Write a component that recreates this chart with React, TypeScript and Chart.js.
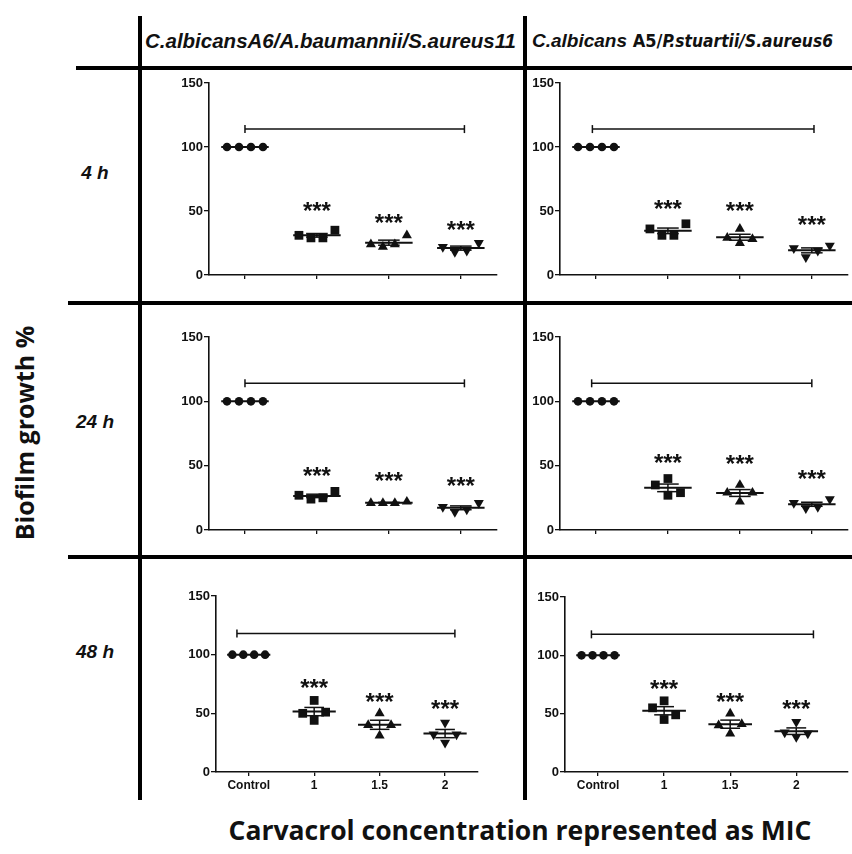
import React, { useEffect, useRef } from "react";
import { Chart, registerables } from "chart.js";

Chart.register(...registerables);

// ---------------- data ----------------
const CATEGORIES = ["Control", "1", "1.5", "2"];
const Y_TICKS = [0, 50, 100, 150];
const ROW_LABELS = ["4 h", "24 h", "48 h"];
const STAR_TEXT = "***";

// replicate values per group: [Control, 1, 1.5, 2]
const A6_4H = [[100, 100, 100, 100], [31, 29, 29, 35], [24, 22, 24, 31], [22, 18, 19, 25]];
const A6_4H_STARS = [55, 45, 40];
const A6_4H_BAR = [114, 0, 3.05];

const A5_4H = [[100, 100, 100, 100], [36, 31, 31, 40], [29, 36, 25, 28], [21, 14, 19, 23]];
const A5_4H_STARS = [56, 55, 44];
const A5_4H_BAR = [114, -0.05, 3.03];

const A6_24H = [[100, 100, 100, 100], [27, 24, 25, 30], [21, 21, 21, 22], [18, 14, 16, 21]];
const A6_24H_STARS = [47, 43, 39];
const A6_24H_BAR = [114, 0, 3.05];

const A5_24H = [[100, 100, 100, 100], [35, 40, 27, 29], [29, 35, 22, 29], [21, 17, 18, 24]];
const A5_24H_STARS = [57, 56, 44];
const A5_24H_BAR = [114, -0.06, 3.0];

const A6_48H = [[100, 100, 100, 100], [50, 61, 44, 51], [40, 50, 31, 40], [32, 42, 25, 32]];
const A6_48H_STARS = [77, 65, 59];
const A6_48H_BAR = [118, -0.18, 3.15];

const A5_48H = [[100, 100, 100, 100], [55, 61, 45, 49], [40, 50, 33, 41], [34, 43, 30, 33]];
const A5_48H_STARS = [76, 65, 59];
const A5_48H_BAR = [118, -0.1, 3.26];

// spread of the replicates around each category (GraphPad-style scatter)
const SPREAD_ROW = [-0.25, -0.083, 0.083, 0.25];
const SPREAD_DIAMOND = [-0.175, 0, 0, 0.175];

// ---------------- styles ----------------
const POINT_STYLES = ["circle", "rect", "triangle", "triangle"];
const POINT_ROT = [0, 0, 0, 180];
const POINT_RADII = [4.3, 6.2, 5.8, 5.8];
const MEAN_HALF = 0.33;
const CAP_HALF = 0.15;
const AX_W = 46;
const AX_H = 30;
const PAD_T = 12;
const PAD_R = 4;
const INK = "#111";

type PanelCfg = {
  key: string;
  l: number; t: number; r: number; b: number;
  xmax: number;
  groups: number[][];
  stars: number[];
  bar: number[];
  spread: number[][];
  labels: boolean;
};

const R = SPREAD_ROW, D = SPREAD_DIAMOND;
const PANELS: PanelCfg[] = [
  { key: "a6-4", l: 209, t: 83, r: 499, b: 275, xmax: 3.5, groups: A6_4H, stars: A6_4H_STARS, bar: A6_4H_BAR, spread: [R, R, R, R], labels: false },
  { key: "a5-4", l: 560, t: 83, r: 850, b: 275, xmax: 3.5, groups: A5_4H, stars: A5_4H_STARS, bar: A5_4H_BAR, spread: [R, R, D, R], labels: false },
  { key: "a6-24", l: 209, t: 337, r: 499, b: 530, xmax: 3.5, groups: A6_24H, stars: A6_24H_STARS, bar: A6_24H_BAR, spread: [R, R, R, R], labels: false },
  { key: "a5-24", l: 560, t: 337, r: 850, b: 530, xmax: 3.5, groups: A5_24H, stars: A5_24H_STARS, bar: A5_24H_BAR, spread: [R, D, D, R], labels: false },
  { key: "a6-48", l: 216, t: 596, r: 480, b: 772, xmax: 3.5, groups: A6_48H, stars: A6_48H_STARS, bar: A6_48H_BAR, spread: [R, D, D, D], labels: true },
  { key: "a5-48", l: 565, t: 597, r: 850, b: 772, xmax: 3.78, groups: A5_48H, stars: A5_48H_STARS, bar: A5_48H_BAR, spread: [R, D, D, D], labels: true },
];

function mean(a: number[]) {
  return a.reduce((s, v) => s + v, 0) / a.length;
}
function sem(a: number[]) {
  const m = mean(a);
  const sd = Math.sqrt(a.reduce((s, v) => s + (v - m) * (v - m), 0) / (a.length - 1));
  return sd / Math.sqrt(a.length);
}

function overlayPlugin(cfg: PanelCfg) {
  return {
    id: "overlay-" + cfg.key,
    afterDatasetsDraw(chart: any) {
      const { ctx } = chart;
      const xs = chart.scales.x;
      const ys = chart.scales.y;
      ctx.save();
      ctx.strokeStyle = INK;
      ctx.fillStyle = INK;
      const seg = (x1: number, y1: number, x2: number, y2: number) => {
        ctx.beginPath();
        ctx.moveTo(x1, y1);
        ctx.lineTo(x2, y2);
        ctx.stroke();
      };
      cfg.groups.forEach((vals, gi) => {
        const m = mean(vals);
        const s = sem(vals);
        const py = ys.getPixelForValue(m);
        ctx.lineWidth = 2;
        seg(xs.getPixelForValue(gi - MEAN_HALF), py, xs.getPixelForValue(gi + MEAN_HALF), py);
        if (s > 0.01) {
          const top = ys.getPixelForValue(m + s);
          const bot = ys.getPixelForValue(m - s);
          const cx = xs.getPixelForValue(gi);
          ctx.lineWidth = 1.5;
          seg(cx, top, cx, bot);
          seg(xs.getPixelForValue(gi - CAP_HALF), top, xs.getPixelForValue(gi + CAP_HALF), top);
          seg(xs.getPixelForValue(gi - CAP_HALF), bot, xs.getPixelForValue(gi + CAP_HALF), bot);
        }
      });
      // significance bar
      const [bv, bx1, bx2] = cfg.bar;
      const by = ys.getPixelForValue(bv);
      const p1 = xs.getPixelForValue(bx1);
      const p2 = xs.getPixelForValue(bx2);
      ctx.lineWidth = 1.5;
      seg(p1, by, p2, by);
      seg(p1, by - 4, p1, by + 4);
      seg(p2, by - 4, p2, by + 4);
      // stars
      ctx.font = 'bold 24px "Liberation Sans", Arial, sans-serif';
      ctx.textAlign = "center";
      ctx.textBaseline = "alphabetic";
      cfg.stars.forEach((sv, i) => {
        const cx = xs.getPixelForValue(i + 1);
        ctx.fillText(STAR_TEXT, cx, ys.getPixelForValue(sv) + 14);
      });
      ctx.restore();
    },
  };
}

function buildConfig(cfg: PanelCfg): any {
  return {
    type: "scatter",
    data: {
      datasets: cfg.groups.map((vals, gi) => ({
        label: CATEGORIES[gi],
        data: vals.map((v, i) => ({ x: gi + cfg.spread[gi][i], y: v })),
        pointStyle: POINT_STYLES[gi],
        rotation: POINT_ROT[gi],
        pointRotation: POINT_ROT[gi],
        pointRadius: POINT_RADII[gi],
        pointHoverRadius: POINT_RADII[gi],
        backgroundColor: INK,
        borderColor: INK,
        borderWidth: 0,
        clip: false,
      })),
    },
    options: {
      animation: false,
      responsive: false,
      maintainAspectRatio: false,
      events: [],
      layout: { padding: { top: PAD_T, right: PAD_R, left: 0, bottom: 0 } },
      plugins: { legend: { display: false }, tooltip: { enabled: false } },
      scales: {
        x: {
          type: "linear",
          min: -0.5,
          max: cfg.xmax,
          afterBuildTicks: (s: any) => {
            s.ticks = CATEGORIES.map((_, i) => ({ value: i }));
          },
          afterFit: (s: any) => {
            s.height = AX_H;
          },
          grid: { drawOnChartArea: false, drawTicks: true, tickLength: 4, color: INK, lineWidth: 1.3 },
          border: { display: true, color: INK, width: 1.6 },
          ticks: {
            display: cfg.labels,
            autoSkip: false,
            maxRotation: 0,
            padding: 2,
            color: INK,
            font: { family: '"Liberation Sans", Arial, sans-serif', size: 12, weight: "bold" },
            callback: (v: number) => CATEGORIES[v] ?? "",
          },
        },
        y: {
          type: "linear",
          min: 0,
          max: 150,
          afterBuildTicks: (s: any) => {
            s.ticks = Y_TICKS.map((v) => ({ value: v }));
          },
          afterFit: (s: any) => {
            s.width = AX_W;
          },
          grid: { drawOnChartArea: false, drawTicks: true, tickLength: 5, color: INK, lineWidth: 1.3 },
          border: { display: true, color: INK, width: 1.6 },
          ticks: {
            padding: 1,
            color: INK,
            font: { family: '"Liberation Sans", Arial, sans-serif', size: 13, weight: "bold" },
          },
        },
      },
    },
    plugins: [overlayPlugin(cfg)],
  };
}

function Panel({ cfg }: { cfg: PanelCfg }) {
  const ref = useRef<HTMLCanvasElement>(null);
  const w = cfg.r - cfg.l + AX_W + PAD_R;
  const h = cfg.b - cfg.t + PAD_T + AX_H;
  useEffect(() => {
    const chart = new Chart(ref.current as HTMLCanvasElement, buildConfig(cfg));
    return () => chart.destroy();
  }, []);
  return (
    <canvas
      ref={ref}
      width={w}
      height={h}
      style={{ position: "absolute", left: cfg.l - AX_W, top: cfg.t - PAD_T, width: w, height: h, display: "block" }}
    />
  );
}

const line = (l: number, t: number, w: number, h: number, key: string) => (
  <div key={key} style={{ position: "absolute", left: l, top: t, width: w, height: h, background: "#000" }} />
);

const arialBI: React.CSSProperties = {
  fontFamily: '"Liberation Sans", Arial, sans-serif',
  fontWeight: "bold",
  fontStyle: "italic",
};
const narrow = '"Liberation Sans Narrow", "DejaVu Sans Condensed", sans-serif';

export default function App() {
  return (
    <div style={{ position: "fixed", left: 0, top: 0, width: 852, height: 854, background: "#fff", overflow: "hidden" }}>
      {/* table lines */}
      {line(76, 66, 776, 4, "hdr")}
      {line(68, 301, 784, 4, "r1")}
      {line(68, 555, 784, 4, "r2")}
      {line(138, 16, 4, 784, "v1")}
      {line(523, 16, 4, 784, "v2")}

      {/* column headers */}
      <div style={{ ...arialBI, position: "absolute", left: 145, top: 29, fontSize: 20.5, lineHeight: "24px", whiteSpace: "nowrap", color: "#111" }}>
        C.albicansA6/A.baumannii/S.aureus11
      </div>
      <div style={{ position: "absolute", left: 532, top: 29, fontSize: 19, lineHeight: "24px", whiteSpace: "nowrap", color: "#111" }}>
        <span style={arialBI}>C.albicans</span>
        <span style={{ fontFamily: narrow, fontWeight: "bold", fontSize: 18 }}> A5/</span>
        <span style={{ fontFamily: narrow, fontWeight: "bold", fontStyle: "italic", fontSize: 17.3 }}>P.stuartii/S.aureus6</span>
      </div>

      {/* row labels */}
      {ROW_LABELS.map((t, i) => (
        <div
          key={t}
          style={{
            ...arialBI,
            position: "absolute",
            left: 60,
            width: 70,
            textAlign: "center",
            top: [173, 422, 652][i] - 11,
            fontSize: 19,
            lineHeight: "22px",
            color: "#111",
            whiteSpace: "pre",
          }}
        >
          {t}
        </div>
      ))}

      {/* axis titles */}
      <div
        style={{
          position: "absolute",
          left: 24,
          top: 433,
          transform: "translate(-50%, -50%) rotate(-90deg)",
          fontFamily: '"Open Sans", sans-serif',
          fontWeight: 700,
          fontSize: 25,
          whiteSpace: "nowrap",
          color: "#111",
        }}
      >
        Biofilm growth %
      </div>
      <div
        style={{
          position: "absolute",
          left: 520,
          top: 830,
          transform: "translate(-50%, -50%)",
          fontFamily: '"Open Sans", sans-serif',
          fontWeight: 700,
          fontSize: 26.5,
          whiteSpace: "nowrap",
          color: "#111",
        }}
      >
        Carvacrol concentration represented as MIC
      </div>

      {PANELS.map((p) => (
        <Panel key={p.key} cfg={p} />
      ))}
    </div>
  );
}
